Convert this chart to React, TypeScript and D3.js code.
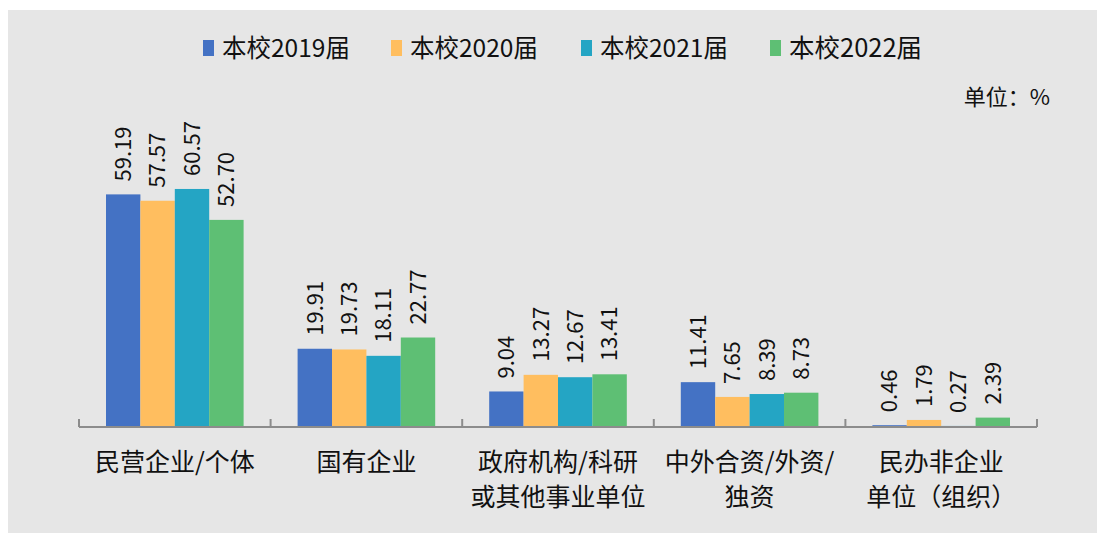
import React from "react";
import * as d3 from "d3";

const categories = [
  ["民营企业/个体"],
  ["国有企业"],
  ["政府机构/科研", "或其他事业单位"],
  ["中外合资/外资/", "独资"],
  ["民办非企业", "单位（组织）"],
];
const seriesNames = ["本校2019届", "本校2020届", "本校2021届", "本校2022届"];
const v2019 = [59.19, 19.91, 9.04, 11.41, 0.46];
const v2020 = [57.57, 19.73, 13.27, 7.65, 1.79];
const v2021 = [60.57, 18.11, 12.67, 8.39, 0.27];
const v2022 = [52.7, 22.77, 13.41, 8.73, 2.39];
const seriesValues = [v2019, v2020, v2021, v2022];
const colors = ["#4472C4", "#FFBE5F", "#24A5C4", "#5EBF74"];

const W = 1097;
const H = 533;
const FONT = "'Noto Sans CJK SC', 'Noto Sans', sans-serif";

export default function App() {
  const x0 = d3
    .scaleBand()
    .domain(categories.map((_, i) => String(i)))
    .range([79, 1037]);
  const bw = x0.bandwidth();
  const x1 = d3.scaleBand().domain(seriesNames).range([27, bw - 27]);
  const y = d3.scaleLinear().domain([0, 70]).range([427, 427 - 70 * 3.93]);

  const legendX = [203, 391, 581, 770];

  return (
    <svg
      width={W}
      height={H}
      style={{ position: "absolute", left: 0, top: 0, fontFamily: FONT }}
    >
      <rect x={0} y={0} width={W} height={H} fill="#fff" />
      <rect x={8} y={10} width={W - 8} height={H - 10} fill="#e6e6e6" />

      {/* legend */}
      {seriesNames.map((s, i) => (
        <g key={s} transform={`translate(${legendX[i]},0)`}>
          <rect x={0} y={40} width={11} height={16} fill={colors[i]} />
          <text
            x={19}
            y={48}
            dy="0.35em"
            fontSize={i === 3 ? 25.5 : 24.5}
            fill="#111"
          >
            {s}
          </text>
        </g>
      ))}

      <text x={1050} y={97} dy="0.35em" textAnchor="end" fontSize={22} fill="#111">
        单位：%
      </text>

      {/* bars */}
      {categories.map((_, ci) => (
        <g key={ci} transform={`translate(${x0(String(ci))},0)`}>
          {seriesNames.map((s, si) => {
            const v = seriesValues[si][ci];
            const bx = x1(s)!;
            const cx = bx + x1.bandwidth() / 2;
            return (
              <g key={s}>
                <rect
                  x={bx}
                  y={y(v)}
                  width={x1.bandwidth()}
                  height={y(0) - y(v)}
                  fill={colors[si]}
                />
                <text
                  transform={`translate(${cx},${y(v) - 13}) rotate(-90)`}
                  dy="0.35em"
                  fontSize={22}
                  fill="#111"
                >
                  {v.toFixed(2)}
                </text>
              </g>
            );
          })}
        </g>
      ))}

      {/* axis */}
      <line x1={79} x2={1037} y1={y(0)} y2={y(0)} stroke="#8c8c8c" strokeWidth={2} />
      {categories.map((_, i) => (
        <line
          key={i}
          x1={x0(String(i))}
          x2={x0(String(i))}
          y1={y(0)}
          y2={y(0) - 8}
          stroke="#8c8c8c"
          strokeWidth={2}
        />
      ))}
      <line x1={1037} x2={1037} y1={y(0)} y2={y(0) - 8} stroke="#8c8c8c" strokeWidth={2} />

      {categories.map((lines, i) => (
        <text
          key={i}
          x={x0(String(i))! + bw / 2}
          y={462}
          textAnchor="middle"
          fontSize={25}
          fill="#111"
        >
          {lines.map((l, li) => (
            <tspan key={li} x={x0(String(i))! + bw / 2} y={462 + li * 35} dy="0.35em">
              {l}
            </tspan>
          ))}
        </text>
      ))}
    </svg>
  );
}
